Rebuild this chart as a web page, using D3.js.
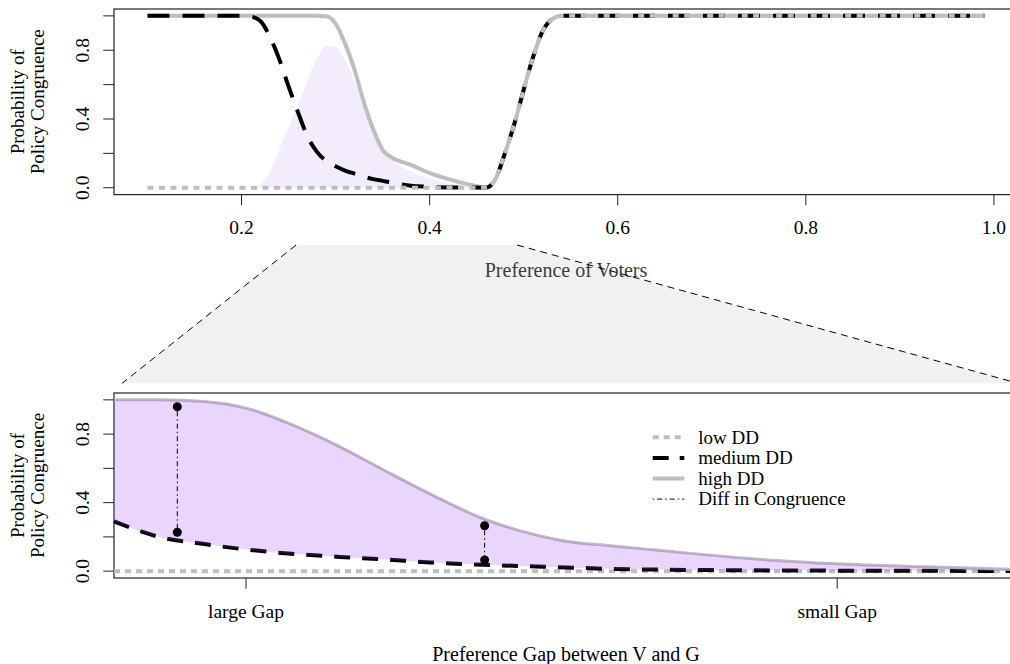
<!DOCTYPE html>
<html lang="en">
  <head>
    <meta charset="UTF-8" />
    <title>Probability of Policy Congruence</title>
    <script src="https://d3js.org/d3.v7.min.js"></script>
    <style>
      body {
        margin: 0;
        background: #fff;
      }
      svg {
        display: block;
        font-family: "Liberation Serif", "DejaVu Serif", serif;
      }
      .tick-label {
        font-size: 19.5px;
      }
      .title {
        font-size: 19px;
      }
      .axis-title {
        font-size: 20px;
      }
    </style>
  </head>
  <body>
    <svg id="chart" width="1010" height="664"></svg>

    <script>
      // ---------------------------------------------------------------
      // Data
      // ---------------------------------------------------------------

      // top panel: preference of voters
      const prefX = [0.1, 0.2, 0.21, 0.22, 0.23, 0.24, 0.25, 0.26, 0.27, 0.28, 0.29, 0.3, 0.31, 0.32,
        0.33, 0.34, 0.35, 0.36, 0.38, 0.4, 0.42, 0.44, 0.46, 0.47, 0.48, 0.49, 0.5, 0.51, 0.52, 0.53, 0.54, 0.99];
      const lowTop = [0, 0, 0, 0, 0, 0, 0, 0, 0, 0, 0, 0, 0, 0, 0, 0, 0, 0, 0, 0, 0, 0, 0,
        0.05, 0.2, 0.37, 0.57, 0.76, 0.91, 0.98, 1, 1];
      const mediumTop = [1, 1, 0.995, 0.97, 0.88, 0.75, 0.59, 0.44, 0.3, 0.21, 0.155, 0.125, 0.1, 0.082,
        0.064, 0.05, 0.04, 0.03, 0.012, 0.005, 0.002, 0.001, 0,
        0.05, 0.2, 0.37, 0.57, 0.76, 0.91, 0.98, 1, 1];
      const highTop = [1, 1, 1, 1, 1, 1, 1, 1, 1, 1, 0.998, 0.955, 0.84, 0.69,
        0.5, 0.34, 0.22, 0.175, 0.133, 0.085, 0.05, 0.021, 0.002,
        0.05, 0.2, 0.37, 0.57, 0.76, 0.91, 0.98, 1, 1];
      const diffTop = [0, 0, 0, 0.02, 0.09, 0.22, 0.35, 0.485, 0.62, 0.75, 0.825, 0.82, 0.74, 0.62,
        0.48, 0.345, 0.24, 0.17, 0.092, 0.052, 0.026, 0.01, 0,
        0, 0, 0, 0, 0, 0, 0, 0, 0];
      const prefTicks = [0.2, 0.4, 0.6, 0.8, 1.0];
      const zoomFrom = [0.258, 0.493]; // part of the top axis that is blown up below

      // bottom panel: preference gap (0 = large gap side, 1 = small gap side)
      const gapX = [0, 0.05, 0.1, 0.15, 0.2, 0.25, 0.3, 0.35, 0.41, 0.45, 0.5, 0.55, 0.6, 0.7, 0.8, 0.9, 1.0];
      const lowGap = [0, 0, 0, 0, 0, 0, 0, 0, 0, 0, 0, 0, 0, 0, 0, 0, 0];
      const mediumGap = [0.29, 0.2, 0.158, 0.124, 0.1, 0.083, 0.068, 0.051, 0.037, 0.03, 0.022, 0.013,
        0.009, 0.005, 0.003, 0.002, 0.001];
      const highGap = [1, 1, 0.99, 0.946, 0.848, 0.726, 0.586, 0.45, 0.303, 0.235, 0.175, 0.148,
        0.123, 0.075, 0.043, 0.025, 0.01];
      const gapTicks = [0.146, 0.8];
      const gapTickLabels = ["large Gap", "small Gap"];

      // diff in congruence markers
      const diffX = [0.07, 0.41];
      const diffHigh = [0.96, 0.265];
      const diffLow = [0.227, 0.065];

      const probTicks = [0, 0.2, 0.4, 0.6, 0.8, 1.0];
      const probLabels = ["0.0", "", "0.4", "", "0.8", ""];

      const legendItems = ["low DD", "medium DD", "high DD", "Diff in Congruence"];

      // ---------------------------------------------------------------
      // Layout
      // ---------------------------------------------------------------
      const svg = d3.select("#chart");
      const gray = "#bebebe";
      const left = 114;
      const right = 1018;
      const topPanel = { top: 9, bottom: 194.6 };
      const botPanel = { top: 393, bottom: 578 };
      const tickLen = 10.7;

      const xTop = d3.scaleLinear().domain([0.0644, 1.0256]).range([left, right]);
      const yTop = d3.scaleLinear().domain([-0.04, 1.04]).range([topPanel.bottom, topPanel.top]);
      const xBot = d3.scaleLinear().domain([0, 1]).range([left, right]);
      const yBot = d3.scaleLinear().domain([-0.04, 1.04]).range([botPanel.bottom, botPanel.top]);

      // ---------------------------------------------------------------
      // Connector between the panels (zoom trapezoid)
      // ---------------------------------------------------------------
      const trapTop = topPanel.bottom + 50.4;
      const trapBot = botPanel.top - 9.7;
      const trapLeftBottom = xTop(0.073);
      const trapRightBottom = xTop(1.0256);

      svg
        .append("path")
        .attr(
          "d",
          `M${xTop(zoomFrom[0])},${trapTop}L${xTop(zoomFrom[1])},${trapTop}` +
            `L${trapRightBottom},${trapBot}L${trapLeftBottom},${trapBot}Z`
        )
        .attr("fill", "#f1f1f1");

      // x title of the top panel sits inside the grey area
      svg
        .append("text")
        .attr("class", "axis-title")
        .attr("x", (left + right) / 2)
        .attr("y", 277)
        .attr("text-anchor", "middle")
        .attr("fill", "#3c3c3c")
        .text("Preference of Voters");

      [
        [xTop(zoomFrom[0]), trapLeftBottom],
        [xTop(zoomFrom[1]), trapRightBottom],
      ].forEach(([x1, x2]) => {
        svg
          .append("line")
          .attr("x1", x1)
          .attr("y1", trapTop)
          .attr("x2", x2)
          .attr("y2", trapBot)
          .attr("stroke", "#000")
          .attr("stroke-width", 1)
          .attr("stroke-dasharray", "7,5");
      });

      // ---------------------------------------------------------------
      // helpers
      // ---------------------------------------------------------------
      function drawAxes(g, x, y, panel, xTicks, xLabels, ylabCenter) {
        // box
        g.append("rect")
          .attr("x", left)
          .attr("y", panel.top)
          .attr("width", right - left)
          .attr("height", panel.bottom - panel.top)
          .attr("fill", "none")
          .attr("stroke", "#222")
          .attr("stroke-width", 1.2);

        // y ticks + rotated labels
        const yAxis = g.append("g");
        yAxis
          .selectAll("line")
          .data(probTicks)
          .join("line")
          .attr("x1", left - tickLen)
          .attr("x2", left)
          .attr("y1", (d) => y(d))
          .attr("y2", (d) => y(d))
          .attr("stroke", "#222");
        yAxis
          .selectAll("text")
          .data(probTicks)
          .join("text")
          .attr("class", "tick-label")
          .attr("text-anchor", "middle")
          .attr("transform", (d) => `translate(${left - 25.5},${y(d)}) rotate(-90)`)
          .text((d, i) => probLabels[i]);

        // x ticks
        const xAxis = g.append("g");
        xAxis
          .selectAll("line")
          .data(xTicks)
          .join("line")
          .attr("x1", (d) => x(d))
          .attr("x2", (d) => x(d))
          .attr("y1", panel.bottom)
          .attr("y2", panel.bottom + tickLen)
          .attr("stroke", "#222");
        xAxis
          .selectAll("text")
          .data(xTicks)
          .join("text")
          .attr("class", "tick-label")
          .attr("text-anchor", "middle")
          .attr("x", (d) => x(d))
          .attr("y", panel.bottom + 39.5)
          .text((d, i) => xLabels[i]);

        // y title (two lines)
        [
          ["Probability of", 24],
          ["Policy Congruence", 44.3],
        ].forEach(([t, bx]) => {
          g.append("text")
            .attr("class", "title")
            .attr("text-anchor", "middle")
            .attr("transform", `translate(${bx},${ylabCenter}) rotate(-90)`)
            .text(t);
        });
      }

      // ---------------------------------------------------------------
      // TOP PANEL
      // ---------------------------------------------------------------
      const gTop = svg.append("g");
      const topRows = prefX.map((x, i) => ({
        x,
        low: lowTop[i],
        medium: mediumTop[i],
        high: highTop[i],
        diff: diffTop[i],
      }));

      gTop
        .append("path")
        .datum(topRows.filter((d) => d.x <= 0.46))
        .attr("fill", "#f3ecfc")
        .attr(
          "d",
          d3
            .area()
            .x((d) => xTop(d.x))
            .y0(yTop(0))
            .y1((d) => yTop(d.diff))
            .curve(d3.curveMonotoneX)
        );

      const lineTop = (key) =>
        d3
          .line()
          .x((d) => xTop(d.x))
          .y((d) => yTop(d[key]))
          .curve(d3.curveMonotoneX);

      gTop
        .append("path")
        .datum(topRows)
        .attr("fill", "none")
        .attr("stroke", gray)
        .attr("stroke-width", 4)
        .attr("d", lineTop("high"));
      gTop
        .append("path")
        .datum(topRows)
        .attr("fill", "none")
        .attr("stroke", "#000")
        .attr("stroke-width", 4)
        .attr("stroke-dasharray", "22,13")
        .attr("d", lineTop("medium"));
      gTop
        .append("path")
        .datum(topRows)
        .attr("fill", "none")
        .attr("stroke", gray)
        .attr("stroke-width", 4)
        .attr("stroke-dasharray", "6,5.5")
        .attr("d", lineTop("low"));

      drawAxes(
        gTop,
        xTop,
        yTop,
        topPanel,
        prefTicks,
        prefTicks.map((d) => d.toFixed(1)),
        (topPanel.top + topPanel.bottom) / 2
      );

      // ---------------------------------------------------------------
      // BOTTOM PANEL
      // ---------------------------------------------------------------
      const gBot = svg.append("g");
      const botRows = gapX.map((x, i) => ({
        x,
        low: lowGap[i],
        medium: mediumGap[i],
        high: highGap[i],
      }));

      drawAxes(
        gBot,
        xBot,
        yBot,
        botPanel,
        gapTicks,
        gapTickLabels,
        (botPanel.top + botPanel.bottom) / 2
      );

      const lineBot = (key) =>
        d3
          .line()
          .x((d) => xBot(d.x))
          .y((d) => yBot(d[key]))
          .curve(d3.curveMonotoneX);

      gBot
        .append("path")
        .datum(botRows)
        .attr("fill", "none")
        .attr("stroke", gray)
        .attr("stroke-width", 4)
        .attr("stroke-dasharray", "6,5")
        .attr("d", lineBot("low"));
      gBot
        .append("path")
        .datum(botRows)
        .attr("fill", "none")
        .attr("stroke", "#000")
        .attr("stroke-width", 4)
        .attr("stroke-dasharray", "16,12")
        .attr("d", lineBot("medium"));
      gBot
        .append("path")
        .datum(botRows)
        .attr("fill", "none")
        .attr("stroke", gray)
        .attr("stroke-width", 3)
        .attr("d", lineBot("high"));

      // shaded difference between medium and high DD (drawn over the lines)
      gBot
        .append("path")
        .datum(botRows)
        .attr("fill", "#a040f0")
        .attr("fill-opacity", 0.22)
        .attr(
          "d",
          d3
            .area()
            .x((d) => xBot(d.x))
            .y0((d) => yBot(d.medium))
            .y1((d) => yBot(d.high))
            .curve(d3.curveMonotoneX)
        );

      // diff in congruence markers
      const diffRows = diffX.map((x, i) => ({ x, hi: diffHigh[i], lo: diffLow[i] }));
      gBot
        .selectAll(".diff-line")
        .data(diffRows)
        .join("line")
        .attr("class", "diff-line")
        .attr("x1", (d) => xBot(d.x))
        .attr("x2", (d) => xBot(d.x))
        .attr("y1", (d) => yBot(d.hi))
        .attr("y2", (d) => yBot(d.lo))
        .attr("stroke", "#000")
        .attr("stroke-width", 1)
        .attr("stroke-dasharray", "1.5,3,5,3");
      gBot
        .selectAll(".diff-pt")
        .data(diffRows.flatMap((d) => [{ x: d.x, y: d.hi }, { x: d.x, y: d.lo }]))
        .join("circle")
        .attr("class", "diff-pt")
        .attr("cx", (d) => xBot(d.x))
        .attr("cy", (d) => yBot(d.y))
        .attr("r", 4.5)
        .attr("fill", "#000");

      // x title of bottom panel
      svg
        .append("text")
        .attr("class", "axis-title")
        .attr("x", (left + right) / 2)
        .attr("y", 660.5)
        .attr("text-anchor", "middle")
        .text("Preference Gap between V and G");

      // ---------------------------------------------------------------
      // legend
      // ---------------------------------------------------------------
      const legendStyles = [
        { stroke: gray, width: 4, dash: "6,5" },
        { stroke: "#000", width: 4, dash: "16,11" },
        { stroke: gray, width: 4, dash: null },
        { stroke: "#000", width: 1, dash: "1.5,3,5,3" },
      ];
      const legend = svg.append("g").attr("transform", "translate(652.7,437.3)");
      const rows = legend
        .selectAll("g")
        .data(legendItems)
        .join("g")
        .attr("transform", (d, i) => `translate(0,${i * 20.6})`);
      rows
        .append("line")
        .attr("x1", 0)
        .attr("x2", 31.6)
        .attr("stroke", (d, i) => legendStyles[i].stroke)
        .attr("stroke-width", (d, i) => legendStyles[i].width)
        .attr("stroke-dasharray", (d, i) => legendStyles[i].dash);
      rows
        .append("text")
        .attr("class", "title")
        .attr("x", 45.6)
        .attr("y", 6.3)
        .text((d) => d);
    </script>
  </body>
</html>
